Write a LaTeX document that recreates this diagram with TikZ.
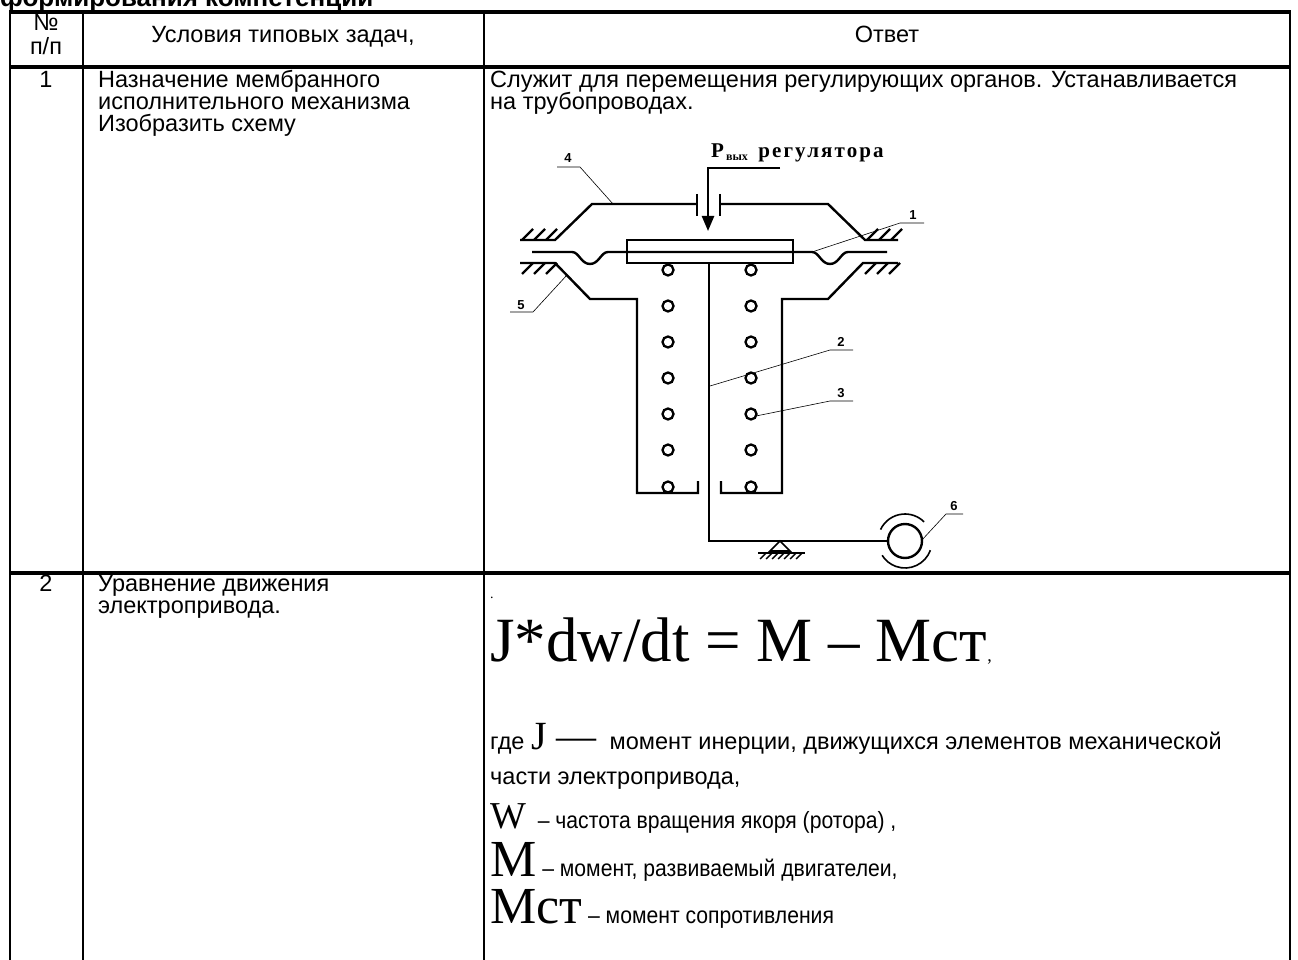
\documentclass[tikz,border=0pt]{standalone}
\usepackage{fontspec}
\setmainfont{Liberation Sans}
\newfontfamily\timesf{Liberation Serif}
\newfontfamily\estrecha{Liberation Sans}[FakeStretch=0.9]
\usetikzlibrary{arrows.meta}

\tikzset{
  tabla/.style={black, line width=2pt},
  tablagruesa/.style={black, line width=3.2pt},
  pieza/.style={black, line width=2.4pt},
  guia/.style={black, line width=0.6pt},
  texto/.style={anchor=base west, inner sep=0pt, font=\fontsize{23.5}{26}\selectfont},
  marca/.style={anchor=base, inner sep=0pt, font=\fontsize{13}{15}\selectfont\bfseries},
}

\begin{document}
\begin{tikzpicture}[x=1pt,y=-1pt]
    \useasboundingbox (0,0) rectangle (1298,960);

    % titulo (cortado arriba)
    \node[texto, font=\fontsize{26}{29}\selectfont\bfseries] (titulo) at (0,7) {формирования компетенций};

    % lineas de la tabla
    \draw[tablagruesa] (9,12) -- (1291,12);
    \draw[tablagruesa] (9,67) -- (1291,67);
    \draw[tablagruesa] (9,573) -- (1291,573);
    \foreach \x in {10,83,484,1290}
        \draw[tabla] (\x,12) -- (\x,962);

    % encabezado
    \node[texto, anchor=base] (num) at (46,31) {№};
    \node[texto, anchor=base] (pp) at (46,55) {п/п};
    \node[texto, anchor=base] (cond) at (283,43) {Условия типовых задач,};
    \node[texto, anchor=base] (otvet) at (887,43) {Ответ};

    % fila 1
    \node[texto, anchor=base] (n1) at (46,88) {1};
    \node[texto] (z1a) at (98,88) {Назначение мембранного};
    \node[texto] (z1b) at (98,110) {исполнительного механизма};
    \node[texto] (z1c) at (98,132) {Изобразить схему};
    \node[texto] (o1a) at (490,88) {Служит для перемещения регулирующих органов. Устанавливается};
    \node[texto] (o1b) at (490,110) {на трубопроводах.};

    % esquema del mecanismo
    % senal del regulador
    \node[anchor=base west, inner sep=0pt, font=\timesf\bfseries\fontsize{21}{21}\selectfont] (pvyh) at (711,158)
        {P\raisebox{-3pt}{\fontsize{12}{12}\selectfont\,вых}\ \ \addfontfeature{LetterSpace=10}регулятора};
    \draw[pieza, -{Triangle[length=15pt,width=12pt]}] (780,168) -- (708,168) -- (708,231);

    % tapa superior
    \draw[pieza] (520,240) -- (555,240) -- (592,204) -- (697,204);
    \draw[pieza] (720,204) -- (828,204) -- (865,240) -- (898,240);
    \draw[pieza] (697,194) -- (697,216);
    \draw[pieza] (720,194) -- (720,216);
    \foreach \x in {522,534,546}
        \draw[pieza] (\x,240) -- (\x+11,229);
    \foreach \x in {867,879,891}
        \draw[pieza] (\x,240) -- (\x+11,229);

    % membrana y disco rigido
    \draw[pieza] (532,252) -- (572,252) .. controls (579,252) and (581,264) .. (590,264)
        .. controls (599,264) and (601,252) .. (608,252) -- (812,252)
        .. controls (819,252) and (821,264) .. (830,264)
        .. controls (839,264) and (841,252) .. (848,252) -- (887,252);
    \draw[pieza] (627,240) rectangle (793,263);

    % cuerpo inferior
    \draw[pieza] (520,263) -- (555,263) -- (590,299) -- (637,299) -- (637,493) -- (698,493) -- (698,481);
    \draw[pieza] (898,263) -- (863,263) -- (828,299) -- (782,299) -- (782,493) -- (721,493) -- (721,481);
    \foreach \x in {533,545,557}
        \draw[pieza] (\x,263) -- (\x-11,274);
    \foreach \x in {876,888,900}
        \draw[pieza] (\x,263) -- (\x-11,274);

    % resortes
    \foreach \y in {270,306,342,378,414,450,487} {
        \draw[pieza, line width=2.3pt] (668,\y) circle (5.5);
        \draw[pieza, line width=2.3pt] (751,\y) circle (5.5);
    }

    % vastago y palanca
    \draw[pieza] (709,263) -- (709,541) -- (888,541);
    \draw[pieza, line width=1.6pt] (780,541) -- (770,551) -- (790,551) -- cycle;
    \draw[pieza, line width=1.6pt] (758,553) -- (805,553);
    \foreach \x in {766,772,778,784,790,796,802}
        \draw[black, line width=1.4pt] (\x,553) -- (\x-6,559);

    % valvula
    \coordinate (valv) at (905,541);
    \draw[pieza] (valv) circle (17);
    \draw[pieza, line width=1.6pt] ([shift={(-155:27)}]valv) arc[start angle=-155, end angle=-45, radius=27];
    \draw[pieza, line width=1.6pt] ([shift={(20:27)}]valv) arc[start angle=20, end angle=148, radius=27];

    % referencias
    \node[marca] (r4) at (568,163) {4};
    \node[marca] (r1) at (913,219) {1};
    \node[marca] (r5) at (521,309) {5};
    \node[marca] (r2) at (841,346) {2};
    \node[marca] (r3) at (841,397) {3};
    \node[marca] (r6) at (954,510) {6};
    \coordinate (p4) at (613,204);
    \coordinate (p1) at (812,252);
    \coordinate (p5) at (567,275);
    \coordinate (p2) at (710,386);
    \coordinate (p3) at (756,416);
    \coordinate (p6) at (921,541);
    \draw[guia] (557,167) -- (580,167) -- (p4);
    \draw[guia] (924,223) -- (900,223) -- (p1);
    \draw[guia] (510,312) -- (533,312) -- (p5);
    \draw[guia] (853,350) -- (830,350) -- (p2);
    \draw[guia] (853,401) -- (830,401) -- (p3);
    \draw[guia] (963,514) -- (946,514) -- (p6);

    % fila 2
    \node[texto, anchor=base] (n2) at (46,591) {2};
    \node[texto] (z2a) at (98,591) {Уравнение движения};
    \node[texto] (z2b) at (98,613) {электропривода.};
    \node[texto, font=\timesf\fontsize{14}{14}\selectfont] (punto) at (490,598) {.};
    \node[texto, font=\timesf\fontsize{63}{63}\selectfont] (ecuacion) at (490,661)
        {J*dw/dt = M – Мст\fontsize{18}{18}\selectfont,};
    \node[texto] (gde) at (490,749)
        {где {\timesf\fontsize{40}{40}\selectfont J —}\ \ момент инерции, движущихся элементов механической};
    \node[texto] (chasti) at (490,784) {части электропривода,};
    \node[texto, font=\estrecha\fontsize{23.5}{26}\selectfont] (lw) at (490,828)
        {{\timesf\fontsize{38}{38}\selectfont W}\ \ – частота вращения якоря (ротора) ,};
    \node[texto, font=\estrecha\fontsize{23.5}{26}\selectfont] (lm) at (490,876)
        {{\timesf\fontsize{52}{52}\selectfont M}\ – момент, развиваемый двигателеи,};
    \node[texto, font=\estrecha\fontsize{23.5}{26}\selectfont] (lmst) at (490,923)
        {{\timesf\fontsize{52}{52}\selectfont Мст}\ – момент сопротивления};

\end{tikzpicture}
\end{document}
